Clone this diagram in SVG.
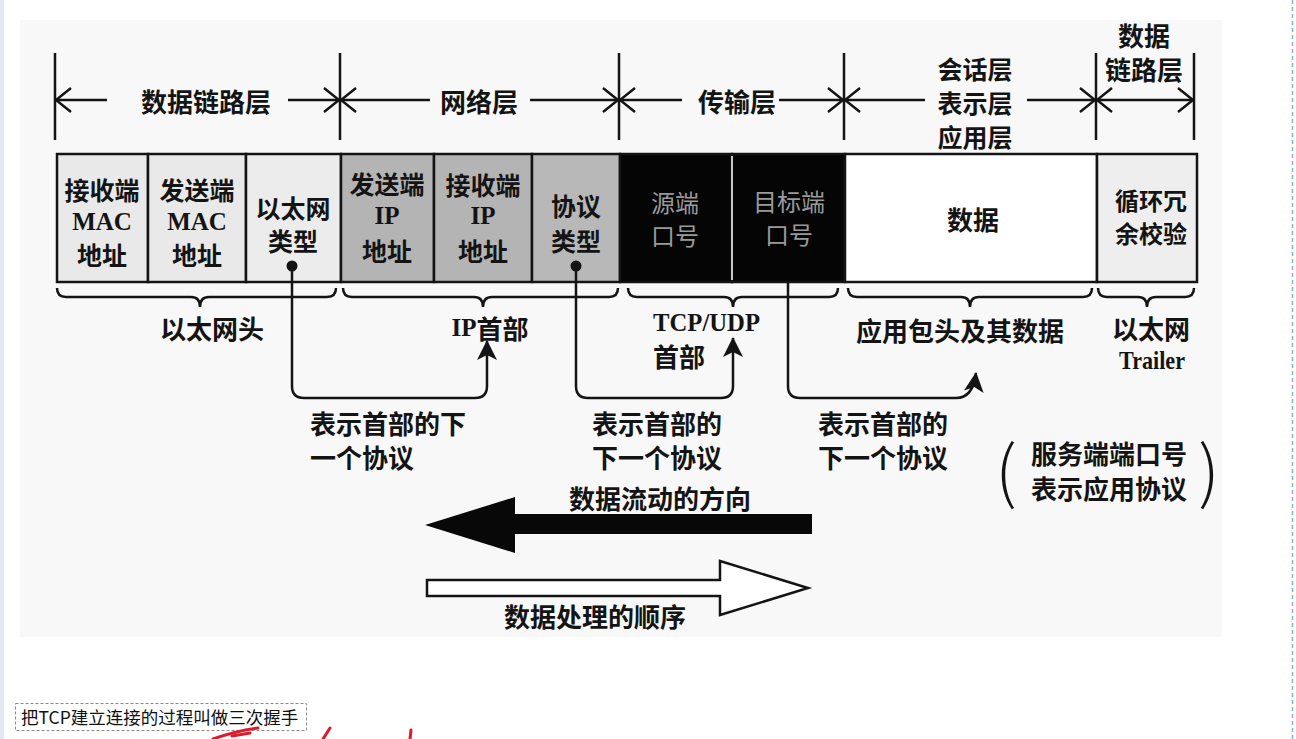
<svg xmlns="http://www.w3.org/2000/svg" width="1296" height="739" viewBox="0 0 1296 739">
<style>
.cjk{font-family:"Noto Sans CJK SC","Noto Sans",sans-serif;font-weight:700;font-size:26px;fill:#141414;text-anchor:middle;dominant-baseline:central}
.c25{font-size:25px}
.c24{font-size:24px}
.st{text-anchor:start}
.ser{font-family:"Liberation Serif",serif;font-weight:700}
.reg{font-weight:400}
.par{font-size:68px;font-weight:300}
.ln{stroke:#141414;stroke-width:2.5;fill:none}
.cell{stroke:#141414;stroke-width:2.5}
.blk{fill:#9a9a9a;font-weight:400}
</style>
<defs>
<marker id="chev" viewBox="0 0 17 28" refX="16" refY="14" markerWidth="17" markerHeight="28" markerUnits="userSpaceOnUse" orient="auto">
<path d="M1,2 L16,14 L1,26" fill="none" stroke="#141414" stroke-width="2.5"/>
</marker>
<marker id="tri" viewBox="0 0 20 20" refX="19" refY="10" markerWidth="20" markerHeight="20" markerUnits="userSpaceOnUse" orient="auto">
<path d="M0,0 L20,10 L0,20 L5,10 Z" fill="#141414"/>
</marker>
</defs>

<rect x="0" y="0" width="1296" height="739" fill="#ffffff"/>
<rect x="0" y="0" width="4" height="739" fill="#e4e7ee"/>
<line x1="1292.5" y1="0" x2="1292.5" y2="739" stroke="#8ab0e6" stroke-width="1.5" stroke-dasharray="4,3"/>
<rect x="20" y="20" width="1202" height="617" fill="#f8f8f8"/>

<g id="layer-ticks" class="ln">
<line x1="55" y1="53" x2="55" y2="140"/>
<line x1="340" y1="53" x2="340" y2="140"/>
<line x1="619" y1="53" x2="619" y2="140"/>
<line x1="844" y1="53" x2="844" y2="140"/>
<line x1="1096" y1="53" x2="1096" y2="140"/>
<line x1="1194" y1="53" x2="1194" y2="140"/>
</g>

<g id="layer-datalink">
<line class="ln" x1="107" y1="100" x2="56" y2="100" marker-end="url(#chev)"/>
<line class="ln" x1="288" y1="100" x2="339" y2="100" marker-end="url(#chev)"/>
<text class="cjk" x="206" y="100">数据链路层</text>
</g>
<g id="layer-network">
<line class="ln" x1="430" y1="100" x2="341" y2="100" marker-end="url(#chev)"/>
<line class="ln" x1="530" y1="100" x2="618" y2="100" marker-end="url(#chev)"/>
<text class="cjk" x="479" y="100">网络层</text>
</g>
<g id="layer-transport">
<line class="ln" x1="682" y1="100" x2="620" y2="100" marker-end="url(#chev)"/>
<line class="ln" x1="779" y1="100" x2="843" y2="100" marker-end="url(#chev)"/>
<text class="cjk" x="737" y="100">传输层</text>
</g>
<g id="layer-app">
<line class="ln" x1="925" y1="100" x2="845" y2="100" marker-end="url(#chev)"/>
<line class="ln" x1="1027" y1="100" x2="1095" y2="100" marker-end="url(#chev)"/>
<text class="cjk c25" x="975" y="68">会话层</text>
<text class="cjk c25" x="975" y="102">表示层</text>
<text class="cjk c25" x="975" y="136">应用层</text>
</g>
<g id="layer-datalink2">
<line class="ln" x1="1145" y1="100" x2="1097" y2="100" marker-end="url(#chev)"/>
<line class="ln" x1="1145" y1="100" x2="1193" y2="100" marker-end="url(#chev)"/>
<text class="cjk" x="1144" y="34">数据</text>
<text class="cjk" x="1144" y="68">链路层</text>
</g>

<g id="cell-dst-mac">
<rect class="cell" x="57" y="154" width="91" height="128" fill="#e9e9e9"/>
<text class="cjk c25" x="102" y="189">接收端</text>
<text class="cjk ser c25" x="102" y="221">MAC</text>
<text class="cjk c25" x="102" y="254">地址</text>
</g>
<g id="cell-src-mac">
<rect class="cell" x="148" y="154" width="98" height="128" fill="#e9e9e9"/>
<text class="cjk c25" x="197" y="189">发送端</text>
<text class="cjk ser c25" x="197" y="221">MAC</text>
<text class="cjk c25" x="197" y="254">地址</text>
</g>
<g id="cell-eth-type">
<rect class="cell" x="246" y="154" width="95" height="128" fill="#ececec"/>
<text class="cjk c25" x="293" y="207">以太网</text>
<text class="cjk c25" x="293" y="240">类型</text>
<circle cx="292" cy="266" r="5.5" fill="#141414"/>
</g>
<g id="cell-src-ip">
<rect class="cell" x="341" y="154" width="93" height="128" fill="#b4b4b4"/>
<text class="cjk c25" x="387" y="183">发送端</text>
<text class="cjk ser c25" x="387" y="215">IP</text>
<text class="cjk c25" x="387" y="250">地址</text>
</g>
<g id="cell-dst-ip">
<rect class="cell" x="434" y="154" width="98" height="128" fill="#b4b4b4"/>
<text class="cjk c25" x="483" y="184">接收端</text>
<text class="cjk ser c25" x="483" y="215">IP</text>
<text class="cjk c25" x="483" y="250">地址</text>
</g>
<g id="cell-proto">
<rect class="cell" x="532" y="154" width="88" height="128" fill="#b8b8b8"/>
<text class="cjk c25" x="576" y="205">协议</text>
<text class="cjk c25" x="576" y="240">类型</text>
<circle cx="576" cy="266" r="5.5" fill="#141414"/>
</g>
<g id="cell-src-port">
<rect class="cell" x="620" y="154" width="112" height="128" fill="#050505"/>
<text class="cjk c24 blk" x="675" y="201">源端</text>
<text class="cjk c24 blk" x="675" y="234">口号</text>
</g>
<g id="cell-dst-port">
<rect class="cell" x="732" y="154" width="113" height="128" fill="#050505"/>
<line x1="732" y1="156" x2="732" y2="280" stroke="#c8c8c8" stroke-width="2"/>
<text class="cjk c24 blk" x="789" y="200">目标端</text>
<text class="cjk c24 blk" x="789" y="233">口号</text>
</g>
<g id="cell-data">
<rect class="cell" x="845" y="154" width="252" height="128" fill="#ffffff"/>
<text class="cjk" x="973" y="218">数据</text>
</g>
<g id="cell-crc">
<rect class="cell" x="1097" y="154" width="100" height="128" fill="#eeeeee"/>
<text class="cjk c24" x="1151" y="199">循环冗</text>
<text class="cjk c24" x="1151" y="232">余校验</text>
</g>

<g id="braces" class="ln">
<path d="M57,288 Q57,297 66,297 H191 Q200,297 200,307 Q200,297 209,297 H327 Q336,297 336,288"/>
<path d="M343,288 Q343,297 352,297 H474 Q483,297 483,307 Q483,297 492,297 H609 Q618,297 618,288"/>
<path d="M628,288 Q628,297 637,297 H724 Q733,297 733,307 Q733,297 742,297 H829 Q838,297 838,288"/>
<path d="M848,288 Q848,297 857,297 H961 Q970,297 970,307 Q970,297 979,297 H1083 Q1092,297 1092,288"/>
<path d="M1098,288 Q1098,297 1107,297 H1138 Q1147,297 1147,307 Q1147,297 1156,297 H1185 Q1194,297 1194,288"/>
</g>

<g id="label-eth-header"><text class="cjk" x="212" y="327">以太网头</text></g>
<g id="label-ip-header"><text class="cjk" x="490" y="327"><tspan class="ser c25">IP</tspan>首部</text></g>
<g id="label-tcp-header">
<text class="cjk ser st" x="653" y="322" textLength="107" lengthAdjust="spacingAndGlyphs">TCP/UDP</text>
<text class="cjk st" x="653" y="355">首部</text>
</g>
<g id="label-app">
<text class="cjk" x="960" y="329">应用包头及其数据</text>
</g>
<g id="label-eth-trailer">
<text class="cjk" x="1151" y="327">以太网</text>
<text class="cjk ser c25" x="1152" y="360" textLength="66" lengthAdjust="spacingAndGlyphs">Trailer</text>
</g>

<g id="connectors" class="ln">
<path d="M292,266 V386 Q292,398 304,398 H475 Q487,398 487,386 V341" marker-end="url(#tri)"/>
<path d="M576,266 V386 Q576,398 588,398 H721 Q733,398 733,386 V338" marker-end="url(#tri)"/>
<path d="M788,282 V386 Q788,398 800,398 H956 Q973,398 976,373" marker-end="url(#tri)"/>
</g>

<g id="note-1">
<text class="cjk st" x="310" y="422">表示首部的下</text>
<text class="cjk st" x="310" y="456">一个协议</text>
</g>
<g id="note-2">
<text class="cjk st" x="592" y="422">表示首部的</text>
<text class="cjk st" x="592" y="456">下一个协议</text>
</g>
<g id="note-3">
<text class="cjk st" x="818" y="422">表示首部的</text>
<text class="cjk st" x="818" y="456">下一个协议</text>
</g>
<g id="note-server">
<text class="cjk par" x="1006" y="466">(</text>
<text class="cjk" x="1109" y="452">服务端端口号</text>
<text class="cjk" x="1109" y="487">表示应用协议</text>
<text class="cjk par" x="1209" y="466">)</text>
</g>

<g id="flow-direction">
<polygon points="425,525 515,497 515,514 812,514 812,534 515,534 515,553" fill="#080808"/>
<text class="cjk" x="660" y="497">数据流动的方向</text>
</g>
<g id="process-order">
<polygon points="427,580 720,580 720,561 808,588 720,615 720,596 427,596" fill="#ffffff" stroke="#141414" stroke-width="2.5" stroke-linejoin="miter"/>
<text class="cjk" x="595" y="615">数据处理的顺序</text>
</g>

<g id="caption">
<rect x="15.5" y="703.5" width="291" height="27" fill="#ffffff" stroke="#8a8a8a" stroke-width="1" stroke-dasharray="3,2"/>
<text x="21" y="724" font-family="'Noto Sans CJK SC','Noto Sans',sans-serif" font-size="17.5" fill="#111">把TCP建立连接的过程叫做三次握手</text>
</g>

<g id="ink" fill="none" stroke="#e0192b" stroke-width="3" stroke-linecap="round">
<path d="M213,739 Q236,731 258,728"/>
<path d="M232,736 L250,733"/>
<path d="M330,728 L323,739"/>
<path d="M411,730 L410,739"/>
</g>
</svg>
